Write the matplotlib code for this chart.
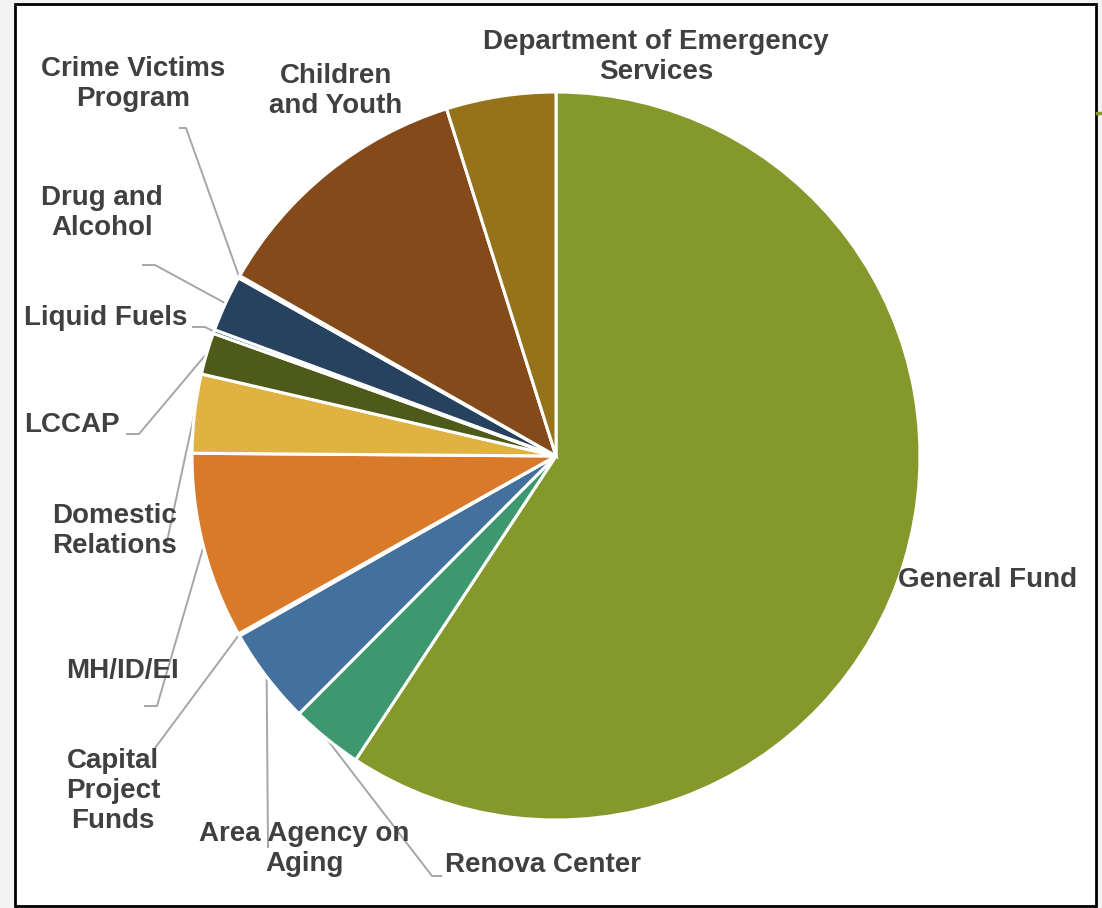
import numpy as np
import matplotlib
matplotlib.use("Agg")
import matplotlib.pyplot as plt
from matplotlib.patches import Rectangle
from matplotlib.lines import Line2D

# ---- data (percent of budget, clockwise from top) ----
labels = ["General Fund", "Renova Center", "Area Agency on\nAging", "Capital\nProject\nFunds",
          "MH/ID/EI", "Domestic\nRelations", "LCCAP", "Liquid Fuels", "Drug and\nAlcohol",
          "Crime Victims\nProgram", "Children\nand Youth", "Department of Emergency\nServices"]
values = [59.3, 3.2, 4.3, 0.1, 8.25, 3.5, 1.85, 0.17, 2.5, 0.11, 11.9, 4.86]
colors = ["#84982C", "#3D9870", "#44709D", "#E8E8E8", "#D97A2A", "#DFB242", "#4E5A1A",
          "#1E6B47", "#27425F", "#9A3B2C", "#844A19", "#94731B"]

W, H = 1102, 908
fig = plt.figure(figsize=(W / 100, H / 100), dpi=100, facecolor="#F3F3F3")

# white framed panel (behind everything)
fig.patches.append(Rectangle((15 / W, 1 - 906 / H), (1096 - 15) / W, (906 - 4) / H,
                             transform=fig.transFigure, facecolor="white",
                             edgecolor="black", linewidth=2, zorder=-5))
# small decorative green tick on the right edge
fig.lines.append(Line2D([1097 / W, 1102 / W], [1 - 113 / H, 1 - 113 / H],
                        transform=fig.transFigure, color="#84982C", lw=2.5))

cx, cy, R = 556, 456, 364
ax = fig.add_axes([(cx - R) / W, 1 - (cy + R) / H, 2 * R / W, 2 * R / H], zorder=1)
ax.patch.set_alpha(0)
wedges, _ = ax.pie(values, colors=colors, startangle=90, counterclock=False,
                   wedgeprops=dict(edgecolor="white", linewidth=2.2))
ax.set_xlim(-1, 1)
ax.set_ylim(-1, 1)
ax.set_aspect("auto")
ax.axis("off")

txt_kw = dict(fontsize=20, fontweight="bold", color="#404040",
              family=["Liberation Sans", "DejaVu Sans"], linespacing=1.2)

# label centres (pixels) and leader-line elbow points (pixels)
label_pos = {
    "General Fund": (988, 580),
    "Renova Center": (543, 865),
    "Area Agency on\nAging": (304, 849),
    "Capital\nProject\nFunds": (113, 791),
    "MH/ID/EI": (122, 671),
    "Domestic\nRelations": (115, 531),
    "LCCAP": (72, 425),
    "Liquid Fuels": (106, 318),
    "Drug and\nAlcohol": (102, 213),
    "Crime Victims\nProgram": (133, 84),
    "Children\nand Youth": (336, 91),
    "Department of Emergency\nServices": (656, 57),
}
leaders = {
    "Renova Center": [(441, 876), (432, 876)],
    "Area Agency on\nAging": [(268, 847)],
    "Capital\nProject\nFunds": [(155, 748)],
    "MH/ID/EI": [(145, 706), (157, 706)],
    "Domestic\nRelations": [(166, 546)],
    "LCCAP": [(127, 434), (139, 434)],
    "Liquid Fuels": [(193, 327), (205, 327)],
    "Drug and\nAlcohol": [(143, 265), (155, 265)],
    "Crime Victims\nProgram": [(180, 128), (186, 128)],
}

inv = ax.transData.inverted()
def px2data(p):
    # pixel (top-left origin) -> display -> data
    return inv.transform((p[0], H - p[1]))

for lab, w in zip(labels, wedges):
    x, y = label_pos[lab]
    fig.text(x / W, 1 - y / H, lab, ha="center", va="center", zorder=3, **txt_kw)
    if lab in leaders:
        th = np.deg2rad((w.theta1 + w.theta2) / 2)
        end = (np.cos(th) * 1.0, np.sin(th) * 1.0)
        pts = [px2data(p) for p in leaders[lab]] + [end]
        xs, ys = zip(*pts)
        ax.add_line(Line2D(xs, ys, color="#A6A6A6", lw=1.4, clip_on=False, zorder=0.5))

fig.savefig("out.png", dpi=100, facecolor=fig.get_facecolor())
